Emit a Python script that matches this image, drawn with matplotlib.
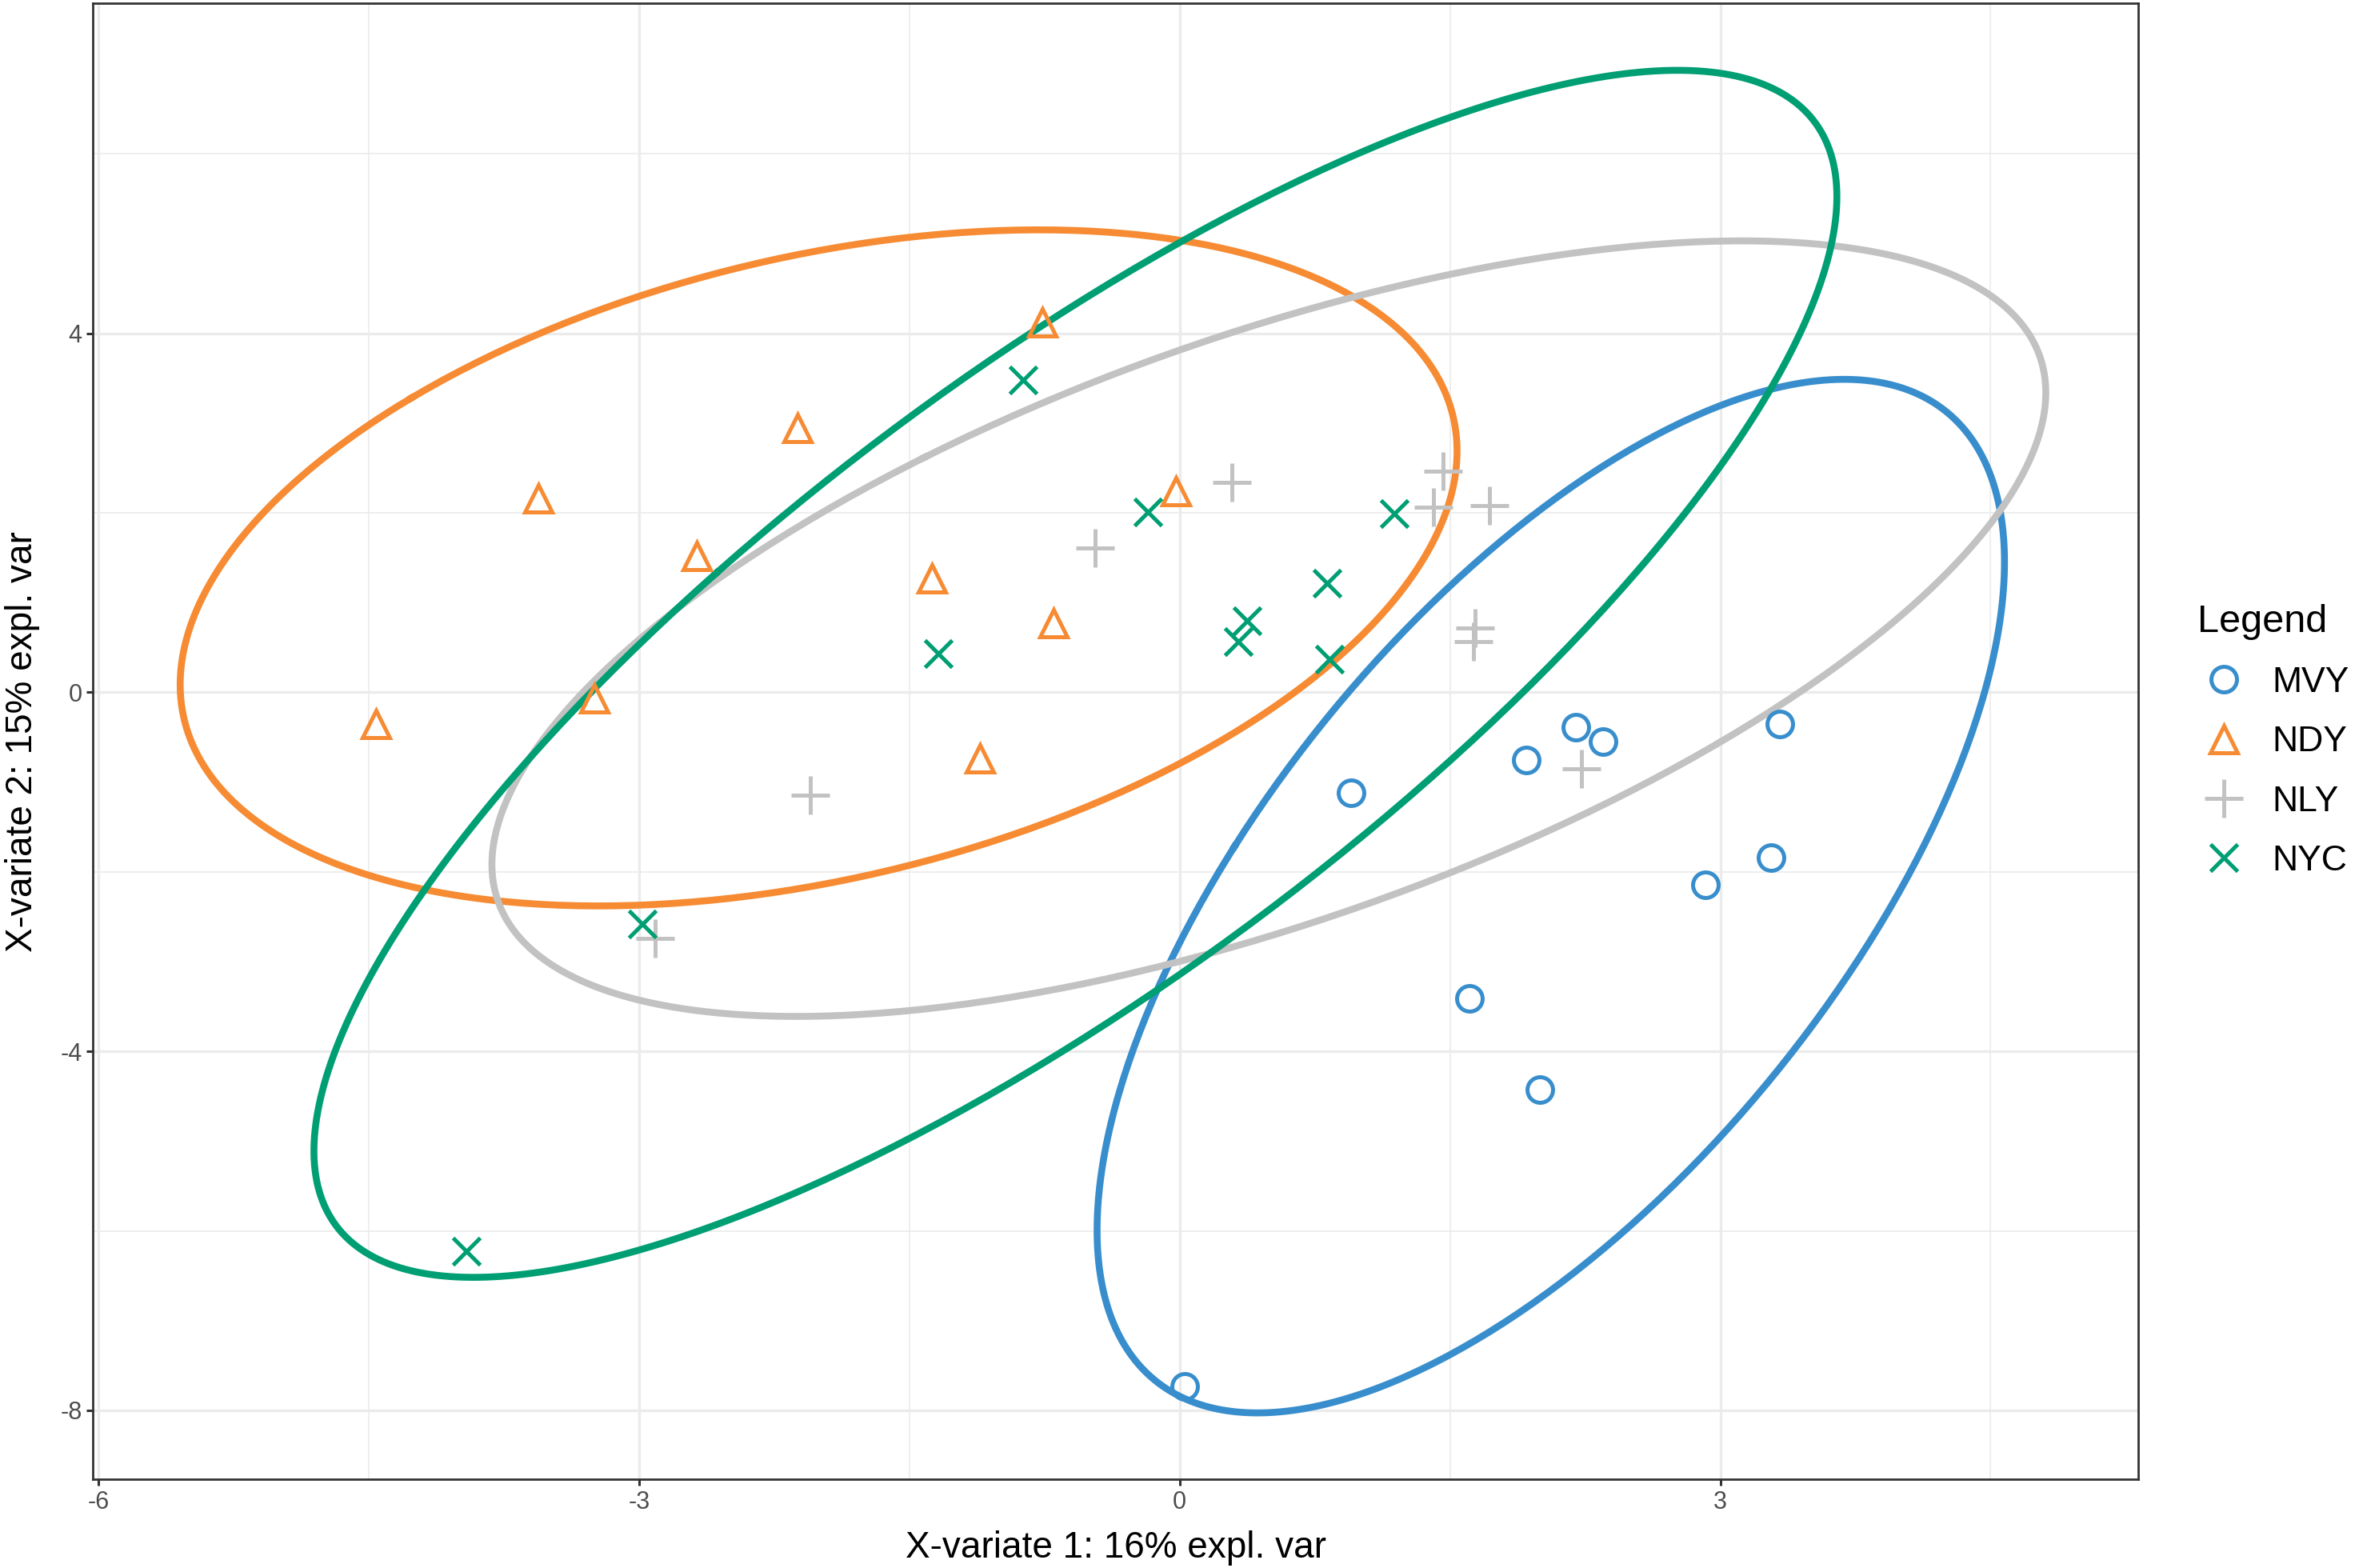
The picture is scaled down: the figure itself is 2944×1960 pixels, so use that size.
import numpy as np
import matplotlib
matplotlib.use('Agg')
import matplotlib.pyplot as plt
from matplotlib.lines import Line2D

plt.rcParams['font.family'] = ['Liberation Sans', 'DejaVu Sans']
plt.rcParams['axes.unicode_minus'] = False

groups = ['MVY', 'NDY', 'NLY', 'NYC']
colors = ['#388ECC', '#F68B33', '#C2C2C2', '#009E73']
markers = ['o', '^', '+', 'x']
msizes = [11.5, 12.5, 17, 12]

mvy_x = [0.95, 1.925, 2.20, 2.35, 3.33, 3.28, 2.92, 1.61, 2.00, 0.03]
mvy_y = [-1.12, -0.75, -0.385, -0.55, -0.35, -1.84, -2.14, -3.41, -4.43, -7.73]
ndy_x = [-4.46, -3.56, -3.25, -2.68, -2.12, -1.375, -1.11, -0.76, -0.70, -0.02]
ndy_y = [-0.35, 2.16, -0.07, 1.52, 2.95, 1.27, -0.74, 4.12, 0.77, 2.24]
nly_x = [-2.05, -2.91, -0.47, 0.29, 1.46, 1.41, 1.72, 1.64, 1.63, 2.23]
nly_y = [-1.15, -2.74, 1.61, 2.34, 2.46, 2.06, 2.08, 0.72, 0.57, -0.85]
nyc_x = [-3.96, -2.98, -1.34, -0.87, -0.175, 0.325, 0.375, 0.82, 0.83, 1.19]
nyc_y = [-6.23, -2.58, 0.435, 3.48, 2.01, 0.57, 0.80, 1.22, 0.37, 1.99]

xs = [mvy_x, ndy_x, nly_x, nyc_x]
ys = [mvy_y, ndy_y, nly_y, nyc_y]

level = 0.95
r = np.sqrt(-2 * np.log(1 - level))  # chi-square quantile, 2 df


def conf_ellipse(x, y, n=400):
    x = np.asarray(x); y = np.asarray(y)
    cov = np.cov(x, y)
    vals, vecs = np.linalg.eigh(cov)
    t = np.linspace(0, 2 * np.pi, n)
    circ = np.vstack([np.cos(t), np.sin(t)])
    pts = vecs @ (np.sqrt(vals)[:, None] * circ) * r
    return x.mean() + pts[0], y.mean() + pts[1]


fig = plt.figure(figsize=(14.72, 9.8), dpi=200)
ax = fig.add_axes([0.0395, 0.0565, 0.8685, 0.9415])

for gx, gy, c in zip(xs, ys, colors):
    ex, ey = conf_ellipse(gx, gy)
    ax.plot(ex, ey, color=c, lw=3.1, zorder=2)

for gx, gy, c, m, ms in zip(xs, ys, colors, markers, msizes):
    ax.plot(gx, gy, linestyle='none', marker=m, markersize=ms, markerfacecolor='none',
            markeredgecolor=c, markeredgewidth=1.8, zorder=3)

ax.set_xlim(-6.03, 5.32)
ax.set_ylim(-8.77, 7.68)
ax.set_xticks([-6, -3, 0, 3])
ax.set_yticks([-8, -4, 0, 4])
ax.set_xticks([-4.5, -1.5, 1.5, 4.5], minor=True)
ax.set_yticks([-6, -2, 2, 6], minor=True)
ax.grid(which='major', color='#EBEBEB', lw=1.2, zorder=0)
ax.grid(which='minor', color='#EBEBEB', lw=0.6, zorder=0)
ax.set_axisbelow(True)
ax.tick_params(which='major', length=3, width=1.1, color='#333333', labelsize=11,
               labelcolor='#4D4D4D', pad=2)
ax.tick_params(which='minor', length=0)
for s in ax.spines.values():
    s.set_color('#333333')
    s.set_linewidth(1.0)

ax.set_xlabel('X-variate 1: 16% expl. var', fontsize=16.5, labelpad=7)
ax.set_ylabel('X-variate 2: 15% expl. var', fontsize=16.5, labelpad=9)

handles = []
for g, c, m, ms in zip(groups, colors, markers, msizes):
    handles.append(Line2D([], [], linestyle='none', marker=m, markersize=ms,
                          markerfacecolor='none', markeredgecolor=c, markeredgewidth=1.8, label=g))
leg = fig.legend(handles=handles, title='Legend', loc='upper left', bbox_to_anchor=(0.933, 0.615),
                 frameon=False, fontsize=16, title_fontsize=17.5, handlelength=1.5,
                 handletextpad=0.6, labelspacing=0.75, borderaxespad=0, borderpad=0)
leg._legend_box.align = 'left'

fig.savefig('out.png', dpi=200)
